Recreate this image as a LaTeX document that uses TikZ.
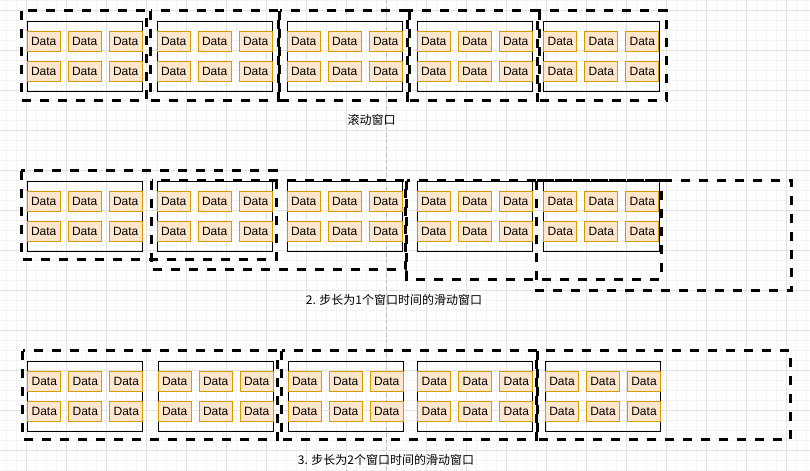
\documentclass[tikz,border=0pt]{standalone}
\usepackage{fontspec}
\setmainfont{Liberation Sans}
\newfontfamily\cjk{Noto Sans CJK SC}
\definecolor{cellfill}{HTML}{FFE6CC}
\definecolor{cellline}{HTML}{D79B00}
\definecolor{gridmajor}{HTML}{E2E2E2}
\definecolor{gridminor}{HTML}{F3F3F3}
\definecolor{guide}{HTML}{BBBBBB}
\tikzset{
  gridmin/.style={draw=gridminor, line width=0.75pt},
  gridmaj/.style={draw=gridmajor, line width=0.75pt},
  guideline/.style={draw=guide, line width=0.6pt, dash pattern=on 2.5pt off 2.5pt},
  cellbox/.style={draw=cellline, fill=cellfill, line width=0.75pt, inner sep=0pt,
    minimum width=24.75pt, minimum height=15pt, anchor=north west, font=\fontsize{9}{10}\selectfont},
  groupbox/.style={draw=black, line width=0.75pt, inner sep=0pt,
    minimum height=52.5pt, anchor=north west},
  winbox/.style={draw=black, line width=2.25pt, dash pattern=on 6.75pt off 6.75pt},
  caption/.style={font=\cjk\fontsize{9}{10}\selectfont, inner sep=0pt}
}
\begin{document}
\begin{tikzpicture}[x=0.75pt,y=-0.75pt]
\useasboundingbox (0,0) rectangle (810,471);
\fill[white] (0,0) rectangle (810,471);
% grid
\foreach \i in {0,...,81} {
  \pgfmathsetmacro\gx{\i*10-3.3}
  \draw[gridmin] (\gx,0) -- (\gx,471);
}
\foreach \i in {0,...,47} {
  \pgfmathsetmacro\gy{\i*10}
  \draw[gridmin] (0,\gy) -- (810,\gy);
}
\foreach \i in {0,...,20} {
  \pgfmathsetmacro\gx{\i*40+26.7}
  \draw[gridmaj] (\gx,0) -- (\gx,471);
}
\foreach \i in {0,...,11} {
  \pgfmathsetmacro\gy{\i*40+10}
  \draw[gridmaj] (0,\gy) -- (810,\gy);
}
\draw[guideline] (386.7,0) -- (386.7,471);
% groups of data
\foreach \r/\ty/\lefts in {1/20.5/{26.7,156.7,286.7,416.7,543.3},
                           2/180.5/{26.7,156.7,286.7,416.7,543.3},
                           3/360.5/{27.3,157.7,287.7,417.3,545}} {
  \foreach \L [count=\b] in \lefts {
    \ifnum\r<3 \ifnum\b=5
      \node[groupbox, minimum width=87pt] (g\r-\b) at (\L,\ty) {};
    \else
      \node[groupbox, minimum width=86.25pt] (g\r-\b) at (\L,\ty) {};
    \fi\else
      \node[groupbox, minimum width=86.25pt] (g\r-\b) at (\L,\ty) {};
    \fi
    \foreach \dy [count=\k] in {10,40} {
      \foreach \dx [count=\c] in {0,41,82} {
        \node[cellbox] (d\r-\b-\k-\c) at (\L+\dx,\ty+\dy) {Data};
      }
    }
  }
}
% row 1 windows
\draw[winbox] (21.3,10.7) rectangle (146.7,100);
\draw[winbox] (150.7,10.7) rectangle (278,100);
\draw[winbox] (279.5,10.7) rectangle (407.5,100);
\draw[winbox] (409,10.7) rectangle (537.5,100);
\draw[winbox] (539,10.7) rectangle (666.7,100);
% row 2 windows
\draw[winbox] (21.3,170.7) rectangle (276.7,259.3);
\draw[winbox] (151.7,180.7) rectangle (405,269.5);
\draw[winbox] (406.5,180.7) rectangle (661,279);
\draw[winbox] (536.5,180.7) rectangle (791.7,290);
% row 3 windows
\draw[winbox] (22.7,350.7) rectangle (277.3,439.3);
\draw[winbox] (281.7,350.7) rectangle (536.5,439.3);
\draw[winbox] (537.5,350.7) rectangle (790.7,439.3);
% captions
\node[caption] (cap1) at (371.7,120) {滚动窗口};
\node[caption] (cap2) at (394,300) {2. 步长为1个窗口时间的滑动窗口};
\node[caption] (cap3) at (386,460) {3. 步长为2个窗口时间的滑动窗口};
\end{tikzpicture}
\end{document}
